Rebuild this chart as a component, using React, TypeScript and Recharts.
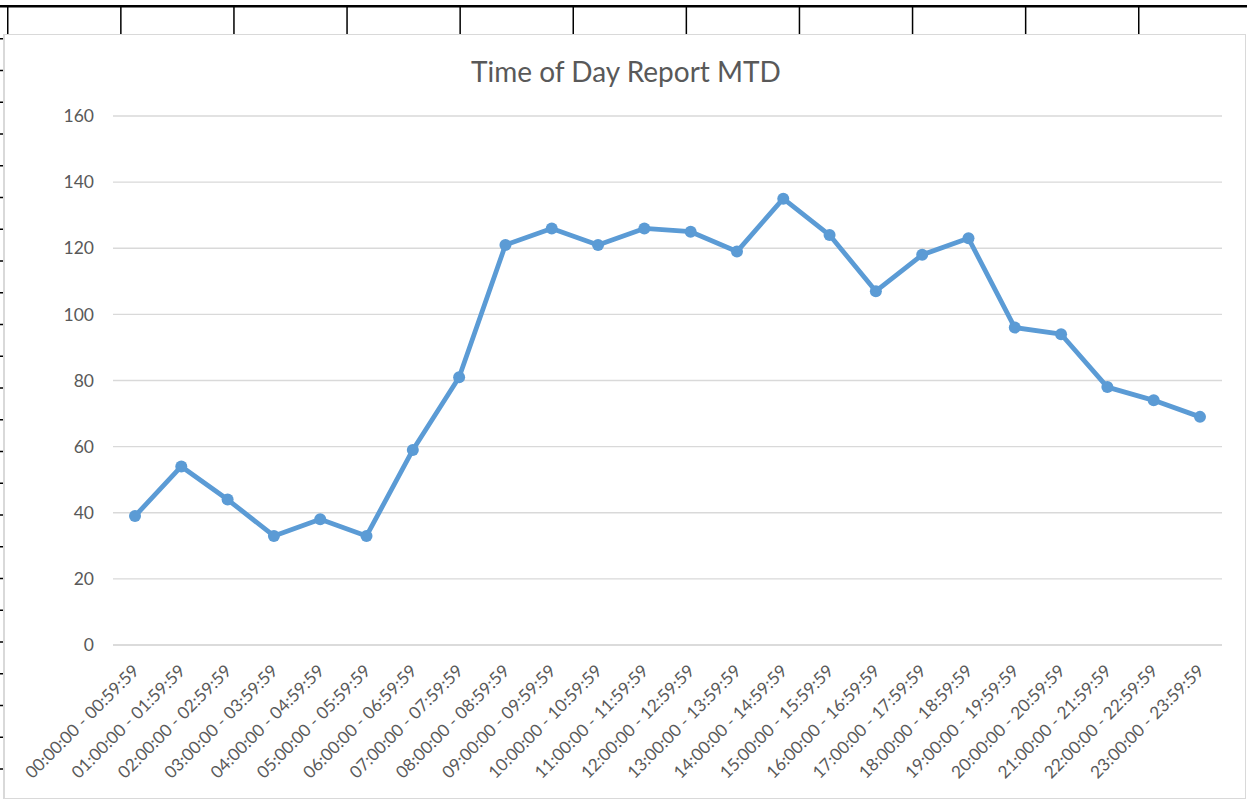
import React from "react";
import { CartesianGrid, Line, LineChart, XAxis, YAxis } from "recharts";

const hourLabels = [
  "00:00:00 - 00:59:59",
  "01:00:00 - 01:59:59",
  "02:00:00 - 02:59:59",
  "03:00:00 - 03:59:59",
  "04:00:00 - 04:59:59",
  "05:00:00 - 05:59:59",
  "06:00:00 - 06:59:59",
  "07:00:00 - 07:59:59",
  "08:00:00 - 08:59:59",
  "09:00:00 - 09:59:59",
  "10:00:00 - 10:59:59",
  "11:00:00 - 11:59:59",
  "12:00:00 - 12:59:59",
  "13:00:00 - 13:59:59",
  "14:00:00 - 14:59:59",
  "15:00:00 - 15:59:59",
  "16:00:00 - 16:59:59",
  "17:00:00 - 17:59:59",
  "18:00:00 - 18:59:59",
  "19:00:00 - 19:59:59",
  "20:00:00 - 20:59:59",
  "21:00:00 - 21:59:59",
  "22:00:00 - 22:59:59",
  "23:00:00 - 23:59:59",
];

const counts = [
  39, 54, 44, 33, 38, 33, 59, 81, 121, 126, 121, 126, 125, 119, 135, 124, 107,
  118, 123, 96, 94, 78, 74, 69,
];

const yTicks = [0, 20, 40, 60, 80, 100, 120, 140, 160];

const TITLE = "Time of Day Report MTD";
const FONT = "Lato, 'Noto Sans', sans-serif";
const TEXT = "#595959";
const BLUE = "#5B9BD5";
const GRID = "#d9d9d9";

const W = 1247;
const H = 799;

const chartData = hourLabels.map((hour, i) => ({ hour, count: counts[i] }));

// spreadsheet cells peeking out around the chart object
const colLines = Array.from({ length: 11 }, (_, i) => 7 + i * 113.1);
const rowTicks = Array.from({ length: 24 }, (_, i) => 38 + i * 31.75);

function HourTick(props: any) {
  const { x, y, payload } = props;
  const tx = x + 5;
  const ty = y + 27;
  return (
    <text
      x={tx}
      y={ty}
      transform={`rotate(-45, ${tx}, ${ty})`}
      textAnchor="end"
      fill={TEXT}
      fontSize={17.2}
      fontFamily={FONT}
    >
      {payload.value}
    </text>
  );
}

export default function App() {
  return (
    <div
      style={{
        position: "absolute",
        left: 0,
        top: 0,
        width: W,
        height: H,
        background: "#fff",
        overflow: "hidden",
      }}
    >
      <svg width={W} height={H} style={{ position: "absolute", left: 0, top: 0 }}>
        <rect x={0} y={5} width={W} height={2.5} fill="#000" />
        {colLines.map((x) => (
          <rect key={x} x={x} y={6} width={1.5} height={29} fill="#000" />
        ))}
        {rowTicks.map((y) => (
          <rect key={y} x={0} y={y} width={4} height={1.5} fill="#000" />
        ))}
      </svg>

      <div
        style={{
          position: "absolute",
          left: 3,
          top: 34,
          width: 1243,
          height: 765,
          boxSizing: "border-box",
          border: `1px solid ${GRID}`,
          borderLeft: `2px solid ${GRID}`,
          background: "#fff",
        }}
      />

      <div style={{ position: "absolute", left: 0, top: 0 }}>
        <LineChart
          width={W}
          height={H}
          data={chartData}
          margin={{ top: 116, right: 25, bottom: 0, left: 0 }}
        >
          <CartesianGrid vertical={false} stroke={GRID} strokeWidth={1.3} />
          <XAxis
            dataKey="hour"
            interval={0}
            height={154}
            padding={{ left: 22, right: 22 }}
            axisLine={{ stroke: GRID, strokeWidth: 1.3 }}
            tickLine={false}
            tickSize={0}
            tickMargin={0}
            tick={<HourTick />}
          />
          <YAxis
            width={113}
            domain={[0, 160]}
            ticks={yTicks}
            axisLine={false}
            tickLine={false}
            tickSize={0}
            tickMargin={19}
            tick={{ fill: TEXT, fontSize: 17.5, fontFamily: FONT }}
          />
          <Line
            type="linear"
            dataKey="count"
            stroke={BLUE}
            strokeWidth={4.8}
            strokeLinejoin="round"
            dot={{ r: 6, fill: BLUE, stroke: BLUE, strokeWidth: 0 }}
            activeDot={false}
            isAnimationActive={false}
          />
        </LineChart>
      </div>

      <svg
        width={W}
        height={100}
        style={{ position: "absolute", left: 0, top: 0, pointerEvents: "none" }}
      >
        <text
          x={626}
          y={82}
          textAnchor="middle"
          fill={TEXT}
          fontSize={28}
          fontFamily={FONT}
        >
          {TITLE}
        </text>
      </svg>
    </div>
  );
}
